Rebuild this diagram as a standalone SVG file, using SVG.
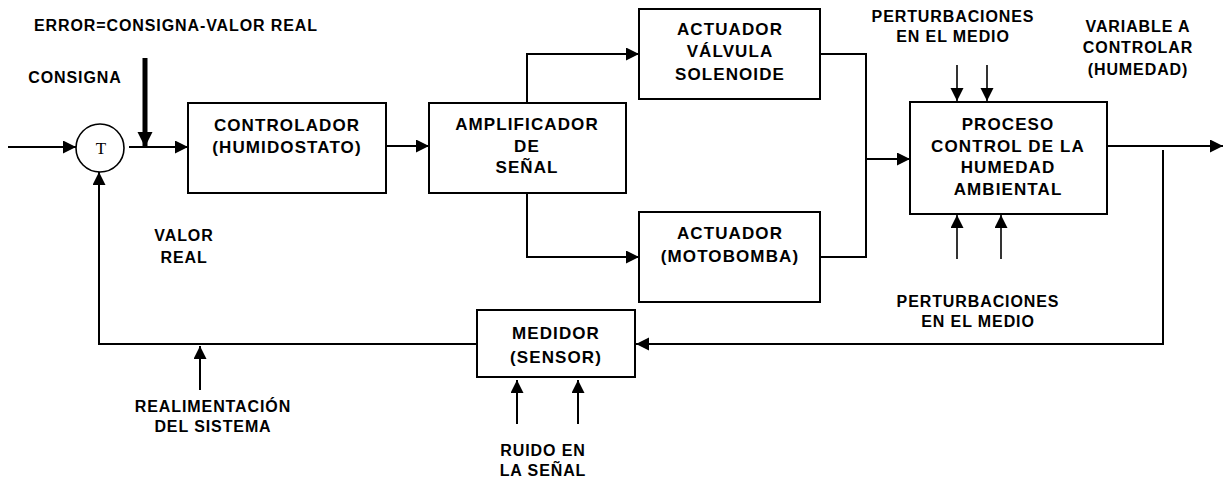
<svg xmlns="http://www.w3.org/2000/svg" width="1225" height="480" viewBox="0 0 1225 480">
<style>
text{font-family:"Liberation Sans",Arial,sans-serif;font-weight:bold;fill:#000;text-anchor:middle}
.lbl{font-size:16px;letter-spacing:0.9px}
.box text{font-size:17px;letter-spacing:1.1px}
.box rect{fill:#fff;stroke:#000;stroke-width:2}
.c{fill:none;stroke:#000;stroke-width:2}
.t{fill:none;stroke:#000;stroke-width:1.6}
.k{fill:none;stroke:#000;stroke-width:5}
</style>
<defs>
<marker id="ah" markerUnits="userSpaceOnUse" markerWidth="14" markerHeight="14" refX="13" refY="6.5" orient="auto"><path d="M0,0 L13,6.5 L0,13 Z" fill="#000"/></marker>
<marker id="ahk" markerUnits="userSpaceOnUse" markerWidth="16" markerHeight="16" refX="15" refY="7.5" orient="auto"><path d="M0,0 L15,7.5 L0,15 Z" fill="#000"/></marker>
</defs>
<g id="labels">
<text class="lbl" x="176" y="31">ERROR=CONSIGNA-VALOR REAL</text>
<text class="lbl" x="75" y="83">CONSIGNA</text>
<text class="lbl" x="953" y="22">PERTURBACIONES</text>
<text class="lbl" x="953" y="42">EN EL MEDIO</text>
<text class="lbl" x="1138" y="32">VARIABLE A</text>
<text class="lbl" x="1138" y="53">CONTROLAR</text>
<text class="lbl" x="1138" y="75">(HUMEDAD)</text>
<text class="lbl" x="978" y="307">PERTURBACIONES</text>
<text class="lbl" x="978" y="327">EN EL MEDIO</text>
<text class="lbl" x="184" y="241">VALOR</text>
<text class="lbl" x="184" y="263">REAL</text>
<text class="lbl" x="213" y="412">REALIMENTACIÓN</text>
<text class="lbl" x="213" y="432">DEL SISTEMA</text>
<text class="lbl" x="543" y="456">RUIDO EN</text>
<text class="lbl" x="543" y="476">LA SEÑAL</text>
</g>
<g id="sum">
<circle cx="100" cy="148" r="24" fill="#fff" stroke="#000" stroke-width="1.6"/>
<text x="101" y="154" style="font-family:'Liberation Serif','Times New Roman',serif;font-weight:normal;font-size:17px">T</text>
</g>
<g id="controlador" class="box">
<rect x="188" y="103" width="198" height="90"/>
<text x="287" y="131">CONTROLADOR</text>
<text x="287" y="153">(HUMIDOSTATO)</text>
</g>
<g id="amplificador" class="box">
<rect x="429" y="103" width="197" height="90"/>
<text x="527" y="130">AMPLIFICADOR</text>
<text x="527" y="152">DE</text>
<text x="527" y="173">SEÑAL</text>
</g>
<g id="actuador1" class="box">
<rect x="639" y="9" width="181" height="90"/>
<text x="730" y="35">ACTUADOR</text>
<text x="730" y="57">VÁLVULA</text>
<text x="730" y="80">SOLENOIDE</text>
</g>
<g id="actuador2" class="box">
<rect x="639" y="212" width="181" height="90"/>
<text x="730" y="239">ACTUADOR</text>
<text x="730" y="262">(MOTOBOMBA)</text>
</g>
<g id="proceso" class="box">
<rect x="910" y="102" width="197" height="112"/>
<text x="1008" y="130">PROCESO</text>
<text x="1008" y="152">CONTROL DE LA</text>
<text x="1008" y="173">HUMEDAD</text>
<text x="1008" y="195">AMBIENTAL</text>
</g>
<g id="medidor" class="box">
<rect x="477" y="310" width="158" height="67"/>
<text x="556" y="339">MEDIDOR</text>
<text x="556" y="363">(SENSOR)</text>
</g>
<g id="connectors">
<line class="c" x1="8" y1="147" x2="76" y2="147" marker-end="url(#ah)"/>
<line class="c" x1="129" y1="147" x2="188" y2="147" marker-end="url(#ah)"/>
<line class="k" x1="145" y1="58" x2="145" y2="147" marker-end="url(#ahk)"/>
<line class="c" x1="386" y1="146" x2="429" y2="146" marker-end="url(#ah)"/>
<polyline class="c" points="527,103 527,54 639,54" marker-end="url(#ah)"/>
<polyline class="c" points="527,193 527,257 639,257" marker-end="url(#ah)"/>
<polyline class="c" points="820,54 866,54 866,257 820,257"/>
<line class="c" x1="866" y1="159" x2="910" y2="159" marker-end="url(#ah)"/>
<line class="t" x1="957" y1="65" x2="957" y2="101" marker-end="url(#ah)"/>
<line class="t" x1="987" y1="65" x2="987" y2="101" marker-end="url(#ah)"/>
<line class="t" x1="957" y1="259" x2="957" y2="215" marker-end="url(#ah)"/>
<line class="t" x1="1001" y1="259" x2="1001" y2="215" marker-end="url(#ah)"/>
<line class="c" x1="1107" y1="146" x2="1223" y2="146" marker-end="url(#ah)"/>
<polyline class="c" points="1163,150 1163,344 636,344" marker-end="url(#ah)"/>
<polyline class="c" points="477,344 99,344 99,172" marker-end="url(#ah)"/>
<line class="c" x1="200" y1="390" x2="200" y2="346" marker-end="url(#ah)"/>
<line class="c" x1="517" y1="424" x2="517" y2="380" marker-end="url(#ah)"/>
<line class="c" x1="578" y1="424" x2="578" y2="380" marker-end="url(#ah)"/>
</g>
</svg>
